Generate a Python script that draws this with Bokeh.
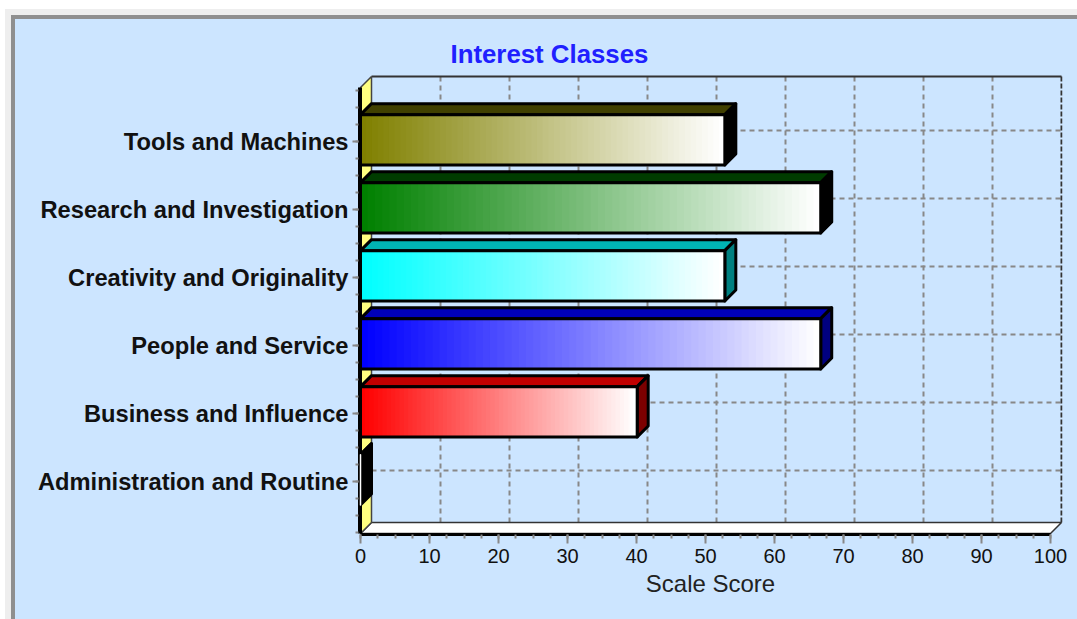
from bokeh.plotting import figure
from bokeh.embed import file_html
from bokeh.resources import INLINE
from bokeh.models import Title, Range1d, FixedTicker, LinearAxis

categories = ["Administration and Routine", "Business and Influence", "People and Service",
              "Creativity and Originality", "Research and Investigation", "Tools and Machines"]
scores = [0.0, 40.1, 66.7, 52.8, 66.7, 52.8]
base_colors = [(0, 0, 0), (255, 0, 0), (0, 0, 255), (0, 255, 255), (0, 128, 0), (128, 128, 0)]
top_colors = ["#000000", "#c00000", "#0000b8", "#00b4b4", "#003c00", "#404000"]
side_colors = ["#000000", "#7c0000", "#000080", "#008080", "#000000", "#000000"]
x_ticks = [0, 10, 20, 30, 40, 50, 60, 70, 80, 90, 100]
title_text = "Interest Classes"
x_title = "Scale Score"

W, H = 1077, 619
PX_X, PX_Y = 6.9, 68.0
DX, DY = 11 / PX_X, 11 / PX_Y
Y_BOT, Y_TOP = (481 - 533) / PX_Y, (481 - 87) / PX_Y

page_bg = ("linear-gradient(#8f8f8f,#8f8f8f) 11px 15px / 100% 4px no-repeat,"
           "linear-gradient(#8f8f8f,#8f8f8f) 11px 15px / 4px 100% no-repeat,"
           "linear-gradient(#cce5ff,#cce5ff) 15px 19px / 100% 100% no-repeat,"
           "linear-gradient(#eeeeee,#eeeeee) 5px 9px / 100% 100% no-repeat")

p = figure(width=W, height=H, output_backend="svg", toolbar_location=None,
           x_range=Range1d(-2 / PX_X, (1062 - 360) / PX_X),
           y_range=Range1d((481 - 534) / PX_Y, (481 - 70) / PX_Y),
           min_border_left=358, min_border_right=W - 1062,
           min_border_top=70, min_border_bottom=H - 534,
           background_fill_color=None, border_fill_color=None,
           outline_line_color=None, x_axis_location=None, y_axis_location=None,
           styles={"background": page_bg})
p.grid.visible = False

p.title = Title(text=title_text, text_font="Liberation Sans", text_font_style="bold",
                text_font_size="25.8px", text_color="#2020ff", align="left", offset=92, standoff=5)

# grid on the back wall
grid_x = [[t + DX, t + DX] for t in x_ticks[1:]]
grid_y = [[Y_BOT + DY, Y_TOP + DY] for _ in x_ticks[1:]]
p.multi_line(grid_x[:-1], grid_y[:-1], line_color="#888888", line_width=2, line_dash="5 4")
p.multi_line([[DX, 100 + DX] for _ in categories], [[i + DY, i + DY] for i in range(len(categories))],
             line_color="#888888", line_width=2, line_dash="5 4")
p.line([100 + DX, 100 + DX], [Y_BOT + DY, Y_TOP + DY], line_color="#333333", line_width=2, line_dash="5 2")
p.line([DX, 100 + DX], [Y_TOP + DY, Y_TOP + DY], line_color="#333333", line_width=2)

# floor and left wall
p.patch([0, 100, 100 + DX, DX], [Y_BOT, Y_BOT, Y_BOT + DY, Y_BOT + DY], fill_color="#ffffff",
        line_color="#333333", line_width=1.5)
p.patch([0, DX, DX, 0], [Y_BOT, Y_BOT + DY, Y_TOP + DY, Y_TOP], fill_color="#ffff80",
        line_color="#444444", line_width=1.5)
p.line([0, 0], [Y_BOT, Y_TOP], line_color="black", line_width=3)

# 3D bars
HALF, SHIFT, STEPS = 0.37, 0.025, 64
for i in range(len(categories) - 1, -1, -1):
    v, (r, g, b) = scores[i], base_colors[i]
    lo, hi = i + SHIFT - HALF, i + SHIFT + HALF
    p.patch([0, DX, v + DX, v], [hi, hi + DY, hi + DY, hi], fill_color=top_colors[i],
            line_color="black", line_width=3, line_join="round")
    p.patch([v, v + DX, v + DX, v], [lo, lo + DY, hi + DY, hi], fill_color=side_colors[i],
            line_color="black", line_width=3, line_join="round")
    if v > 0:
        lefts, fills = [], []
        for k in range(STEPS):
            f = k / (STEPS - 1)
            lefts.append(v * k / STEPS)
            fills.append("#%02x%02x%02x" % (round(r + (255 - r) * f), round(g + (255 - g) * f), round(b + (255 - b) * f)))
        p.quad(left=lefts, right=[v] * STEPS, bottom=[lo] * STEPS, top=[hi] * STEPS, fill_color=fills, line_color=None)
    p.patch([0, v, v, 0], [lo, lo, hi, hi], fill_color=None, line_color="black" if v > 0 else "white",
            line_width=3 if v > 0 else 1.5, line_join="round")

# axes
xa = LinearAxis(axis_label=x_title, bounds=(0, 100), ticker=FixedTicker(ticks=x_ticks,
                minor_ticks=[t * 2.5 for t in range(41)]))
ya = LinearAxis(bounds=(Y_BOT, Y_TOP), ticker=FixedTicker(ticks=list(range(6)),
                minor_ticks=[t * 0.25 for t in range(-3, 24)]),
                major_label_overrides={i: c for i, c in enumerate(categories)})
xa.axis_line_color = "black"; xa.axis_line_width = 3
ya.axis_line_color = "black"; ya.axis_line_width = 1
xa.major_tick_line_color = xa.minor_tick_line_color = "#888888"
ya.major_tick_line_color = ya.minor_tick_line_color = "#888888"
xa.major_tick_line_width = xa.minor_tick_line_width = 2
ya.major_tick_line_width = ya.minor_tick_line_width = 2
xa.major_tick_in = xa.minor_tick_in = ya.major_tick_in = ya.minor_tick_in = 0
xa.major_tick_out, xa.minor_tick_out = 9, 4
ya.major_tick_out, ya.minor_tick_out = 6, 3
xa.major_label_text_font = ya.major_label_text_font = xa.axis_label_text_font = "Liberation Sans"
xa.major_label_text_font_size = "20px"
xa.major_label_text_color = "#111111"
xa.major_label_standoff = 5
ya.major_label_text_font_style = "bold"
ya.major_label_text_font_size = "23.7px"
ya.major_label_text_color = "#111111"
ya.major_label_standoff = 4
xa.axis_label_text_font_size = "24px"
xa.axis_label_text_font_style = "normal"
xa.axis_label_text_color = "#222222"
xa.axis_label_standoff = 4
p.add_layout(xa, "below")
p.add_layout(ya, "left")

open("out.html", "w").write(file_html(p, INLINE))
